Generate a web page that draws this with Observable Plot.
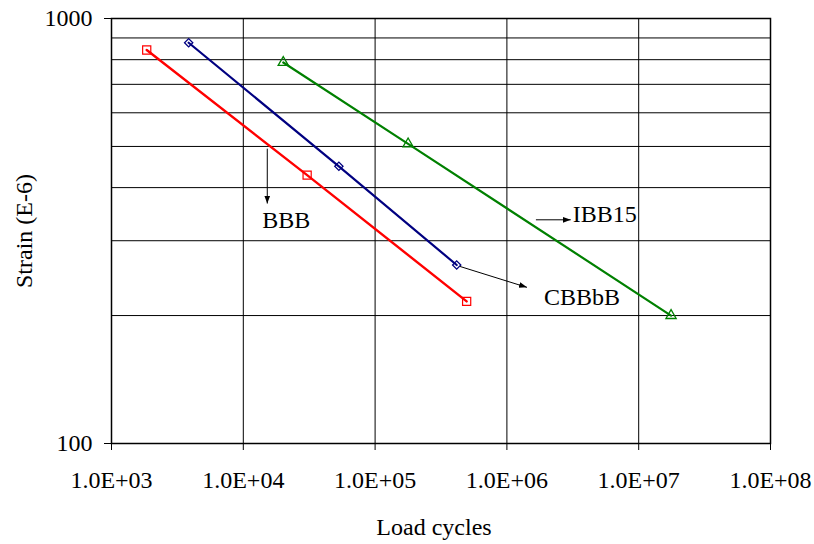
<!DOCTYPE html>
<html>
<head>
<meta charset="utf-8">
<script src="https://cdn.jsdelivr.net/npm/d3@7"></script>
<script src="https://cdn.jsdelivr.net/npm/@observablehq/plot@0.6"></script>
<style>
  html, body { margin: 0; padding: 0; background: #fff; }
  #chart svg { display: block; }
</style>
</head>
<body>
<div id="chart"></div>
<script>
// ---- data ----
const seriesNames = ["BBB", "CBBbB", "IBB15"];
const bbbCycles = [1850, 30500, 495000];
const bbbStrain = [843, 428, 216];
const cbbCycles = [3850, 53100, 416000];
const cbbStrain = [877, 449, 263];
const ibbCycles = [20100, 178000, 17600000];
const ibbStrain = [788, 507, 200];

const xTicks = [1e3, 1e4, 1e5, 1e6, 1e7, 1e8];
const xTickLabels = ["1.0E+03", "1.0E+04", "1.0E+05", "1.0E+06", "1.0E+07", "1.0E+08"];
const yTicks = [100, 1000];
const yTickLabels = ["100", "1000"];
const yGrid = [100, 200, 300, 400, 500, 600, 700, 800, 900, 1000];

// annotations (data coordinates)
const annotLabels = ["BBB", "IBB15", "CBBbB"];
const annotTextX = [21200, 3160000, 1910000];
const annotTextY = [335, 346, 221];
const arrowX1 = [15200, 1660000, 440000];
const arrowY1 = [494, 336, 261];
const arrowX2 = [15200, 3050000, 1420000];
const arrowY2 = [367, 336, 233];

const colors = ["#ff0000", "#000080", "#008000"];

const series = [
  {name: seriesNames[0], cycles: bbbCycles, strain: bbbStrain},
  {name: seriesNames[1], cycles: cbbCycles, strain: cbbStrain},
  {name: seriesNames[2], cycles: ibbCycles, strain: ibbStrain}
];
const rows = series.flatMap(s => s.cycles.map((c, i) => ({name: s.name, x: c, y: s.strain[i]})));
const rowsOf = n => rows.filter(r => r.name === n);

const annots = annotLabels.map((t, i) => ({t, x: annotTextX[i], y: annotTextY[i]}));
const arrows = arrowX1.map((x1, i) => ({x1, y1: arrowY1[i], x2: arrowX2[i], y2: arrowY2[i]}));

// filled arrowhead marker
const filledHead = (color) => {
  const m = d3.create("svg:marker")
    .attr("viewBox", "-8 -4 8 8")
    .attr("refX", 0).attr("refY", 0)
    .attr("markerWidth", 8).attr("markerHeight", 8)
    .attr("markerUnits", "userSpaceOnUse")
    .attr("orient", "auto")
    .attr("fill", color).attr("stroke", "none");
  m.append("path").attr("d", "M-8,-3L0,0L-8,3Z");
  return m.node();
};

let arrowMark;
try {
  arrowMark = Plot.link(arrows, {x1: "x1", y1: "y1", x2: "x2", y2: "y2", stroke: "#000", strokeWidth: 1, markerEnd: filledHead});
} catch (e) {
  arrowMark = Plot.arrow(arrows, {x1: "x1", y1: "y1", x2: "x2", y2: "y2", stroke: "#000", strokeWidth: 1, headLength: 8, headAngle: 45});
}

const font = "'Liberation Serif', 'Times New Roman', serif";

const chart = Plot.plot({
  width: 814,
  height: 544,
  marginLeft: 111,
  marginRight: 44,
  marginTop: 18,
  marginBottom: 101,
  style: {fontFamily: font, fontSize: "24px", color: "#000", background: "#fff"},
  x: {type: "log", domain: [1e3, 1e8]},
  y: {type: "log", domain: [100, 1000]},
  marks: [
    Plot.ruleY(yGrid, {stroke: "#000", strokeWidth: 1}),
    Plot.ruleX(xTicks, {stroke: "#000", strokeWidth: 1}),
    Plot.frame({stroke: "#000", strokeWidth: 1.5}),
    Plot.axisX({ticks: xTicks, tickFormat: d => xTickLabels[xTicks.indexOf(d)], tickSize: 7, tickPadding: 20, label: null, stroke: "#000", fontSize: 24}),
    Plot.axisY({ticks: yTicks, tickFormat: d => yTickLabels[yTicks.indexOf(d)], tickSize: 7, tickPadding: 12, label: null, stroke: "#000", fontSize: 24}),
    Plot.line(rowsOf("BBB"), {x: "x", y: "y", stroke: colors[0], strokeWidth: 2.4}),
    Plot.line(rowsOf("CBBbB"), {x: "x", y: "y", stroke: colors[1], strokeWidth: 2.2}),
    Plot.line(rowsOf("IBB15"), {x: "x", y: "y", stroke: colors[2], strokeWidth: 2.2}),
    Plot.dot(rowsOf("BBB"), {x: "x", y: "y", symbol: "square", r: 4.6, fill: "none", stroke: colors[0], strokeWidth: 1.2}),
    Plot.dot(rowsOf("CBBbB"), {x: "x", y: "y", symbol: "square", rotate: 45, r: 3.3, fill: "none", stroke: colors[1], strokeWidth: 1.3}),
    Plot.dot(rowsOf("IBB15"), {x: "x", y: "y", symbol: "triangle", r: 3.8, fill: "none", stroke: colors[2], strokeWidth: 1.3}),
    arrowMark,
    Plot.text(annots.slice(0, 1), {x: "x", y: "y", text: "t", textAnchor: "middle", fontSize: 24, fill: "#000"}),
    Plot.text(annots.slice(1), {x: "x", y: "y", text: "t", textAnchor: "start", fontSize: 24, fill: "#000"}),
    Plot.text(["Load cycles"], {frameAnchor: "bottom", textAnchor: "middle", lineAnchor: "middle", dx: -7, dy: 84, text: d => d, fontSize: 24, fill: "#000"}),
    Plot.text(["Strain (E-6)"], {frameAnchor: "left", textAnchor: "middle", lineAnchor: "middle", dx: -87, rotate: -90, text: d => d, fontSize: 24, fill: "#000"})
  ]
});
document.getElementById("chart").append(chart);
</script>
</body>
</html>
